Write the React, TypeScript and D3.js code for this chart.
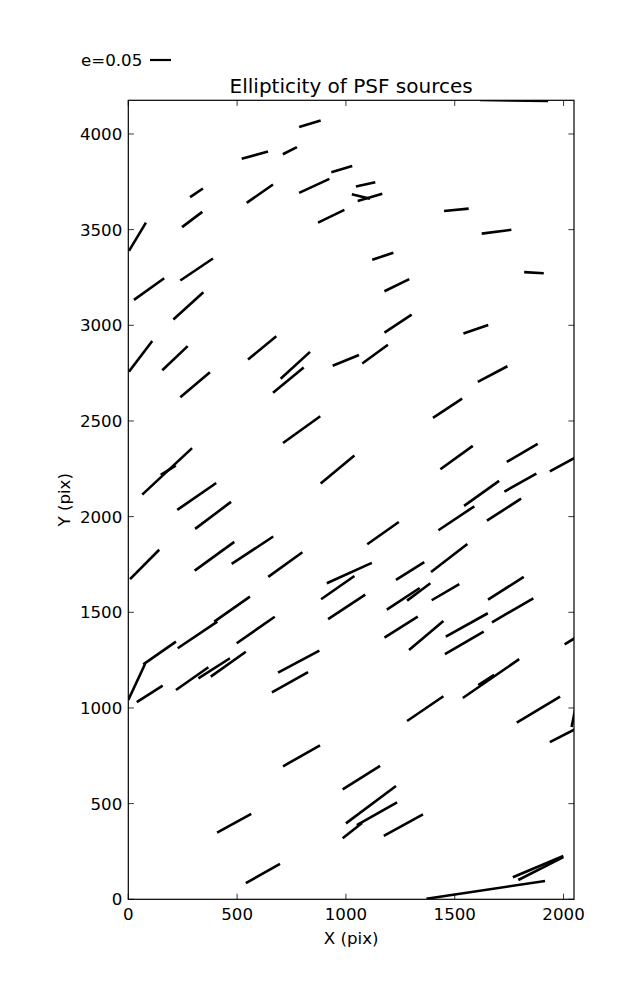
import React from "react";
import * as d3 from "d3";

// Whisker endpoints in CCD pixel coordinates (data units)
const wx0 = [785, 521, 710, 933, 284, 544, 785, 1027, 1054, 247, 872, 3, 1616, 1046, 1451, 1624,
  26, 239, 207, 3, 156, 550, 700, 665, 939, 1121, 1819, 1177, 1177, 1540, 1075, 1606,
  239, 711, 64, 149, 884, 225, 307, 1400, 1434, 1739, 1937, 1543, 1728, 1425, 1648,
  8, 305, 475, 643, 912, 886, 918, 395, 227, 69, 498, 1098, 1230, 1391, 1188, 1281, 1394, 1653, 1671,
  1177, 1290, 1459, 1455, 2005, 0, 39, 219, 322, 379, 688, 660, 711, 1537, 1608, 1281, 1785, 1937, 2037,
  985, 408, 540, 1000, 1050, 985, 1174, 1370, 1767, 1792];
const wy0 = [4036, 3870, 3894, 3800, 3670, 3640, 3692, 3685, 3650, 3513, 3537, 3389, 4178, 3725, 3597, 3479,
  3133, 3234, 3030, 2758, 2765, 2821, 2721, 2647, 2789, 3343, 3278, 3178, 2962, 2957, 2800, 2704,
  2624, 2385, 2115, 2218, 2173, 2035, 1936, 2516, 2248, 2286, 2237, 2056, 2131, 1929, 1979,
  1673, 1718, 1753, 1685, 1652, 1568, 1464, 1451, 1312, 1228, 1338, 1856, 1669, 1711, 1514, 1561, 1563, 1566, 1448,
  1368, 1303, 1373, 1281, 1332, 1042, 1031, 1094, 1155, 1164, 1185, 1082, 695, 1052, 1120, 932, 923, 821, 901,
  575, 348, 84, 397, 388, 319, 332, 3, 115, 101];
const wx1 = [884, 642, 775, 1029, 343, 665, 924, 1111, 1167, 340, 993, 81, 1929, 1135, 1564, 1760,
  165, 389, 345, 110, 273, 680, 835, 806, 1060, 1218, 1909, 1291, 1302, 1654, 1193, 1742,
  375, 882, 293, 218, 1039, 404, 472, 1534, 1583, 1881, 2053, 1704, 1875, 1590, 1805,
  142, 487, 666, 800, 1119, 1039, 1089, 559, 409, 219, 673, 1243, 1360, 1558, 1339, 1388, 1521, 1817, 1861,
  1330, 1448, 1652, 1633, 2053, 77, 158, 368, 467, 540, 878, 826, 881, 1796, 1681, 1448, 1984, 2053, 2053,
  1157, 565, 697, 1230, 1235, 1074, 1354, 1915, 1999, 1999];
const wy1 = [4070, 3908, 3931, 3833, 3715, 3736, 3765, 3661, 3687, 3593, 3603, 3537, 4172, 3748, 3610, 3499,
  3246, 3349, 3173, 2918, 2891, 2943, 2861, 2779, 2845, 3379, 3272, 3241, 3056, 3002, 2898, 2786,
  2755, 2525, 2358, 2267, 2319, 2176, 2077, 2617, 2370, 2380, 2308, 2187, 2225, 2054, 2094,
  1827, 1868, 1896, 1814, 1758, 1690, 1592, 1582, 1451, 1347, 1477, 1972, 1762, 1857, 1627, 1652, 1647, 1685, 1573,
  1477, 1455, 1495, 1399, 1366, 1230, 1117, 1213, 1260, 1294, 1300, 1187, 805, 1255, 1173, 1061, 1059, 889, 990,
  697, 447, 185, 592, 507, 399, 444, 96, 226, 220];

const xTicks = [0, 500, 1000, 1500, 2000];
const yTicks = [0, 500, 1000, 1500, 2000, 2500, 3000, 3500, 4000];
const xDomain = [0, 2048];
const yDomain = [0, 4176];
const keyLabel = "e=0.05";

export default function App() {
  const W = 637, H = 1000;
  const L = 128.3, R = 574, T = 100.3, B = 899.3;
  const x = d3.scaleLinear().domain(xDomain).range([L, R]);
  const y = d3.scaleLinear().domain(yDomain).range([B, T]);
  const font = "'DejaVu Sans', sans-serif";
  const fs = 16.67;
  const tl = 5.6;
  const seg = d3.range(wx0.length).map((i) => ({ a: [wx0[i], wy0[i]], b: [wx1[i], wy1[i]] }));
  const line = d3.line<number[]>().x((d) => x(d[0])).y((d) => y(d[1]));

  return (
    <svg width={W} height={H} style={{ position: "absolute", left: 0, top: 0, background: "#fff" }}>
      <rect x={0} y={0} width={W} height={H} fill="#fff" />
      <defs>
        <clipPath id="plotclip">
          <rect x={L} y={T} width={R - L} height={B - T} />
        </clipPath>
      </defs>
      <g clipPath="url(#plotclip)">
        {seg.map((s, i) => (
          <path key={i} d={line([s.a, s.b]) || ""} stroke="#000" strokeWidth={2.6} fill="none" />
        ))}
      </g>
      {/* frame */}
      <rect x={L} y={T} width={R - L} height={B - T} fill="none" stroke="#000" strokeWidth={1.2} />
      {/* ticks */}
      {xTicks.map((t) => (
        <g key={"x" + t}>
          <line x1={x(t)} x2={x(t)} y1={B} y2={B - tl} stroke="#000" strokeWidth={0.8} />
          <line x1={x(t)} x2={x(t)} y1={T} y2={T + tl} stroke="#000" strokeWidth={0.8} />
          <text x={x(t)} y={B + 21} textAnchor="middle" fontFamily={font} fontSize={fs}>{t}</text>
        </g>
      ))}
      {yTicks.map((t) => (
        <g key={"y" + t}>
          <line x1={L} x2={L + tl} y1={y(t)} y2={y(t)} stroke="#000" strokeWidth={0.8} />
          <line x1={R} x2={R - tl} y1={y(t)} y2={y(t)} stroke="#000" strokeWidth={0.8} />
          <text x={L - 6} y={y(t) + 6} textAnchor="end" fontFamily={font} fontSize={fs}>{t}</text>
        </g>
      ))}
      {/* labels */}
      <text x={(L + R) / 2} y={944} textAnchor="middle" fontFamily={font} fontSize={fs}>X (pix)</text>
      <text transform={`translate(70,${(T + B) / 2}) rotate(-90)`} textAnchor="middle" fontFamily={font} fontSize={fs}>Y (pix)</text>
      <text x={(L + R) / 2} y={93} textAnchor="middle" fontFamily={font} fontSize={20}>Ellipticity of PSF sources</text>
      {/* key */}
      <text x={81} y={66} fontFamily={font} fontSize={fs}>{keyLabel}</text>
      <line x1={150} x2={171} y1={60} y2={60} stroke="#000" strokeWidth={2.2} />
    </svg>
  );
}
